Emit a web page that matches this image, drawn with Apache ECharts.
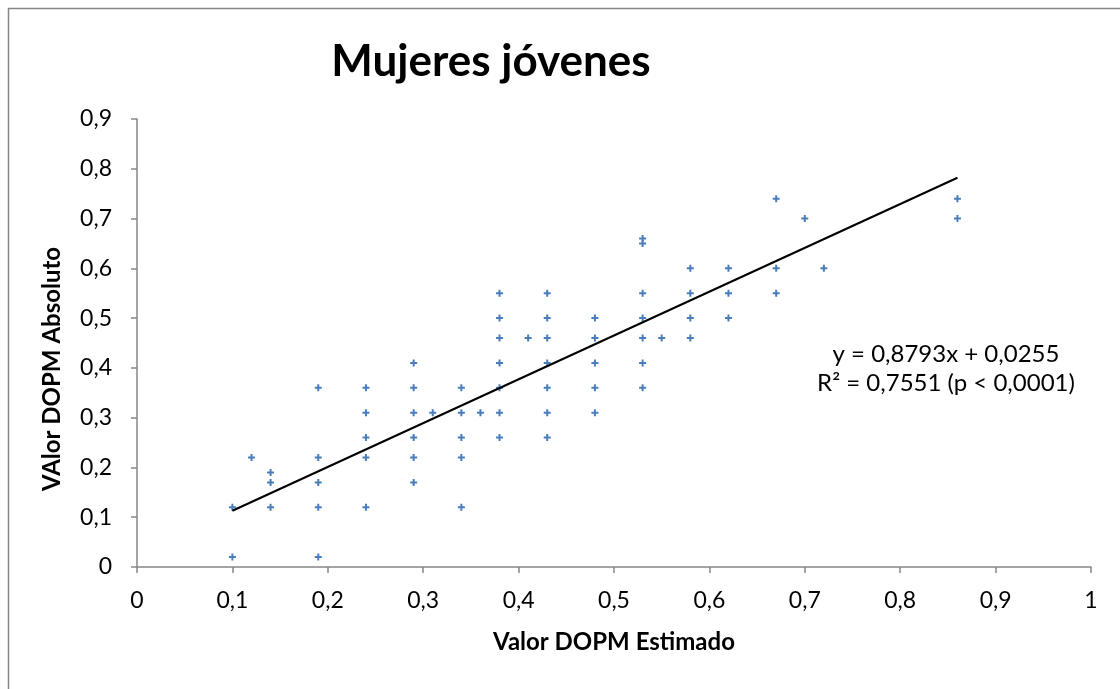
<!DOCTYPE html>
<html><head><meta charset="utf-8">
<script src="https://cdn.jsdelivr.net/npm/echarts@6/dist/echarts.min.js"></script>
<style>html,body{margin:0;padding:0;background:#fff}#c{width:1120px;height:689px}</style>
</head><body><div id="c"></div>
<script>
const titleText = 'Mujeres jóvenes';
const xName = 'Valor DOPM Estimado';
const yName = 'VAlor DOPM Absoluto';
const xTicks = ['0','0,1','0,2','0,3','0,4','0,5','0,6','0,7','0,8','0,9','1'];
const yTicks = ['0','0,1','0,2','0,3','0,4','0,5','0,6','0,7','0,8','0,9'];
const pointsX = [0.10,0.10,0.12,0.14,0.14,0.14,0.19,0.19,0.19,0.19,0.19,
  0.24,0.24,0.24,0.24,0.24,0.29,0.29,0.29,0.29,0.29,0.29,0.31,
  0.34,0.34,0.34,0.34,0.34,0.36,0.38,0.38,0.38,0.38,0.38,0.38,0.38,0.41,
  0.43,0.43,0.43,0.43,0.43,0.43,0.43,0.48,0.48,0.48,0.48,0.48,
  0.53,0.53,0.53,0.53,0.53,0.53,0.53,0.55,0.58,0.58,0.58,0.58,
  0.62,0.62,0.62,0.67,0.67,0.67,0.70,0.72,0.86,0.86];
const pointsY = [0.02,0.12,0.22,0.19,0.17,0.12,0.36,0.22,0.17,0.12,0.02,
  0.36,0.31,0.26,0.22,0.12,0.41,0.36,0.31,0.26,0.22,0.17,0.31,
  0.36,0.31,0.26,0.22,0.12,0.31,0.55,0.50,0.46,0.41,0.36,0.31,0.26,0.46,
  0.55,0.50,0.46,0.41,0.36,0.31,0.26,0.50,0.46,0.41,0.36,0.31,
  0.66,0.65,0.55,0.50,0.46,0.41,0.36,0.46,0.60,0.55,0.50,0.46,
  0.60,0.55,0.50,0.74,0.60,0.55,0.70,0.60,0.74,0.70];
const trendX = [0.10, 0.86];
const trendY = [0.113, 0.782];
const eqLine1 = 'y = 0,8793x + 0,0255';
const eqLine2 = 'R² = 0,7551 (p < 0,0001)';

const scatterData = pointsX.map((x,i)=>[x,pointsY[i]]);
const trendData = trendX.map((x,i)=>[x,trendY[i]]);
const FONT = 'Lato, "Open Sans", sans-serif';
const fmt = v => String(Math.round(v*10)/10).replace('.', ',');
const chart = echarts.init(document.getElementById('c'), null, {renderer:'canvas'});
chart.setOption({
  animation:false,
  backgroundColor:'#fff',
  title:{text:titleText,left:486,textAlign:'center',top:35,
    textStyle:{fontFamily:FONT,fontSize:44,fontWeight:'bold',color:'#000'}},
  grid:{left:137,right:29,top:119,bottom:122,containLabel:false},
  xAxis:{type:'value',min:0,max:1,interval:0.1,
    name:xName,nameLocation:'middle',nameGap:63,
    nameTextStyle:{fontFamily:FONT,fontSize:24,fontWeight:'bold',color:'#000'},
    axisLine:{show:true,lineStyle:{color:'#868686',width:1.5}},
    axisTick:{show:true,inside:false,length:6,lineStyle:{color:'#868686',width:1.5}},
    axisLabel:{fontFamily:FONT,fontSize:23,color:'#000',margin:22,formatter:v=>xTicks[Math.round(v*10)] ?? fmt(v)},
    splitLine:{show:false}},
  yAxis:{type:'value',min:0,max:0.9,interval:0.1,
    axisLine:{show:true,lineStyle:{color:'#868686',width:1.5}},
    axisTick:{show:true,inside:false,length:6,lineStyle:{color:'#868686',width:1.5}},
    axisLabel:{fontFamily:FONT,fontSize:23,color:'#000',margin:25,formatter:v=>yTicks[Math.round(v*10)] ?? fmt(v)},
    splitLine:{show:false}},
  graphic:[
    {type:'rect',left:6,top:6,shape:{width:1300,height:1000},style:{fill:'none',stroke:'#868686',lineWidth:1.5},silent:true},
    {type:'text',x:52,y:369,rotation:Math.PI/2,style:{text:yName,textAlign:'center',textVerticalAlign:'middle',font:'bold 24px '+FONT,fill:'#000'}},
    {type:'text',x:946,y:369,style:{text:eqLine1+'\n'+eqLine2,textAlign:'center',textVerticalAlign:'middle',font:'24px '+FONT,fill:'#000',lineHeight:29}}
  ],
  series:[
    {type:'scatter',data:scatterData,symbol:'path://M2.5,0H4.5V2.5H7V4.5H4.5V7H2.5V4.5H0V2.5H2.5Z',symbolSize:7,
      itemStyle:{color:'#4A7EBB',opacity:1},z:3},
    {type:'line',data:trendData,symbol:'none',lineStyle:{color:'#000',width:2},z:4}
  ]
});
</script></body></html>
